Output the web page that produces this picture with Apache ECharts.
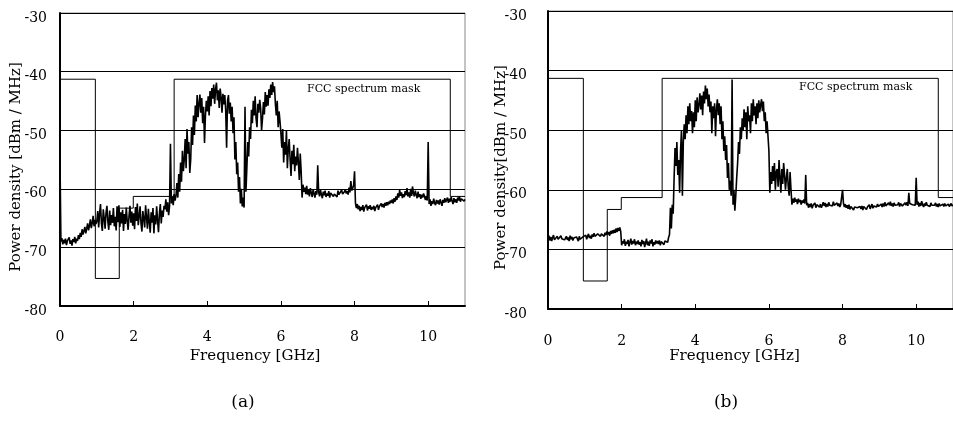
<!DOCTYPE html>
<html>
<head>
<meta charset="utf-8">
<script src="https://cdn.jsdelivr.net/npm/echarts@6/dist/echarts.min.js"></script>
<style>html,body{margin:0;padding:0;background:#fff}#c{width:953px;height:421px}</style>
</head>
<body>
<div id="c"></div>
<script>
// Sampling of measured spectra: 0 .. 11 GHz every 0.025 GHz (20 samples per row = 0.5 GHz)
var sampleStep = 0.025;
// Panel (a) measured power density [dBm/MHz]
var traceA = [
-55,-69.0,-68.4,-69.5,-68.7,-69.3,-68.5,-69.6,-68.9,-69.2,-68.3,-69.4,-68.8,-69.7,-68.6,-69.1,-68.2,-69.3,-68.5,-68.9,
-67.9,-68.6,-67.5,-68.2,-66.9,-67.8,-67.2,-66.5,-67.6,-66.8,-65.9,-67.1,-66.3,-65.2,-66.7,-65.8,-64.6,-66.4,-65.3,-66.0,
-65.5,-63.8,-66.6,-64.2,-62.6,-65.9,-67.2,-63.5,-65.0,-66.8,-64.1,-62.9,-65.6,-67.0,-63.7,-66.2,-64.5,-65.8,-63.3,-66.4,
-64.8,-67.1,-63.0,-65.7,-62.8,-66.5,-64.0,-65.9,-63.6,-67.2,-64.3,-66.0,-63.2,-65.4,-67.0,-64.6,-62.9,-65.8,-63.9,-66.3,
-64.2,-66.9,-63.1,-65.5,-62.5,-66.2,-64.7,-63.0,-65.9,-67.3,-63.8,-65.1,-66.6,-62.8,-64.9,-66.8,-63.4,-65.6,-67.5,-64.0,
-65.8,-63.3,-67.6,-64.5,-66.1,-63.0,-65.4,-67.4,-64.2,-62.6,-65.9,-63.7,-64.8,-62.9,-63.5,-61.8,-63.9,-62.3,-64.5,-63.0,
-52.3,-62.5,-61.4,-62.8,-60.9,-62.0,-61.2,-59.0,-61.5,-57.5,-60.5,-55.5,-58.8,-53.5,-57.0,-55.0,-51.5,-56.5,-49.8,-54.0,
-52.0,-57.3,-55.0,-49.5,-52.5,-47.5,-50.8,-45.8,-48.5,-44.0,-47.8,-45.5,-43.9,-47.0,-44.5,-48.8,-46.0,-52.2,-47.5,-45.0,
-46.8,-44.2,-47.5,-43.3,-45.9,-42.8,-44.6,-42.2,-45.5,-43.0,-41.9,-44.9,-43.2,-46.2,-42.9,-44.3,-47.0,-43.8,-45.6,-44.0,
-46.5,-53.0,-45.0,-44.0,-47.2,-45.3,-48.5,-46.0,-50.5,-47.8,-55.0,-52.0,-57.5,-55.5,-60.5,-58.0,-62.5,-60.0,-63.0,-61.5,
-63.2,-46.0,-60.5,-56.5,-52.0,-54.5,-49.5,-51.5,-46.5,-48.8,-45.0,-47.5,-44.2,-48.0,-49.5,-45.5,-47.0,-44.8,-46.3,-50.0,
-48.0,-45.2,-47.3,-43.5,-46.0,-44.0,-45.8,-43.0,-44.5,-42.2,-44.0,-41.8,-43.5,-42.5,-45.5,-47.5,-45.0,-49.5,-46.8,-48.5,
-50.5,-53.0,-49.8,-55.5,-52.0,-54.2,-50.0,-56.5,-53.2,-51.5,-55.0,-57.8,-53.5,-55.8,-52.5,-57.0,-54.5,-56.0,-53.0,-55.5,
-58.5,-54.0,-57.0,-61.5,-59.3,-60.5,-59.8,-60.9,-59.5,-61.0,-60.2,-61.3,-59.9,-60.7,-61.4,-60.1,-60.8,-61.5,-60.4,-61.0,
-56.0,-60.6,-61.3,-60.2,-61.0,-61.6,-60.5,-61.1,-60.3,-61.4,-60.8,-61.2,-60.4,-61.5,-60.7,-61.0,-60.5,-61.3,-60.9,-61.2,
-60.6,-61.4,-60.3,-61.0,-60.8,-61.3,-60.2,-60.9,-61.2,-60.5,-60.1,-60.8,-60.4,-61.0,-59.8,-60.6,-58.7,-60.3,-59.9,-59.4,
-57.0,-62.5,-63.3,-62.6,-63.5,-62.9,-63.8,-63.1,-63.6,-62.8,-63.9,-63.2,-63.5,-62.7,-63.7,-63.0,-63.4,-62.8,-63.6,-63.1,
-63.5,-62.9,-63.8,-63.2,-63.4,-62.7,-63.6,-63.0,-63.3,-62.5,-63.1,-62.6,-63.2,-62.4,-62.9,-62.3,-62.8,-62.2,-62.6,-62.0,
-62.4,-61.8,-62.5,-61.6,-62.2,-61.3,-61.9,-60.8,-61.5,-60.2,-61.2,-60.6,-61.6,-60.9,-61.4,-60.4,-61.1,-59.9,-61.3,-60.6,
-61.5,-60.0,-61.2,-59.6,-60.8,-61.3,-60.3,-61.0,-61.6,-60.5,-61.4,-60.9,-61.7,-61.0,-61.5,-60.8,-61.3,-61.9,-61.2,-62.0,
-52.0,-62.6,-61.8,-62.9,-62.1,-62.6,-61.7,-62.4,-62.8,-61.9,-62.5,-62.0,-62.7,-61.8,-62.3,-62.9,-61.9,-62.4,-61.6,-62.3,
-62.0,-61.5,-62.4,-61.7,-62.2,-61.4,-62.1,-62.6,-61.6,-62.3,-61.8,-62.4,-61.5,-62.0,-61.3,-62.2,-61.7,-61.9,-61.4,-62.1,
-61.8
];
// Panel (b) measured power density [dBm/MHz]
var traceB = [
-68.3,-67.7,-68.5,-67.9,-68.6,-68.0,-67.6,-68.4,-68.1,-68.7,-67.8,-68.3,-68.0,-68.6,-67.7,-68.2,-68.5,-67.9,-68.4,-68.1,
-67.8,-68.4,-68.0,-68.6,-67.7,-68.3,-67.9,-68.5,-68.1,-67.8,-68.4,-67.9,-68.2,-68.6,-67.8,-68.3,-68.0,-68.5,-67.9,-68.2,
-68.0,-67.6,-68.3,-67.8,-67.4,-68.1,-67.7,-68.2,-67.5,-67.9,-67.3,-67.8,-67.5,-68.0,-67.4,-67.7,-67.2,-67.8,-67.4,-67.6,
-67.3,-67.8,-67.2,-67.6,-67.0,-67.5,-67.1,-67.7,-66.9,-67.4,-66.8,-67.3,-66.7,-67.2,-66.5,-67.1,-66.4,-66.9,-66.3,-67.0,
-69.3,-68.6,-69.0,-68.3,-69.4,-68.7,-69.1,-68.4,-69.5,-68.8,-68.2,-69.2,-68.6,-69.0,-68.3,-69.3,-68.7,-69.1,-68.5,-69.2,
-68.8,-69.5,-68.4,-69.1,-68.6,-69.6,-68.9,-68.2,-69.3,-68.7,-69.4,-68.5,-69.0,-68.3,-69.5,-68.8,-69.2,-68.5,-69.0,-68.6,
-69.1,-68.5,-69.3,-68.7,-69.0,-68.4,-69.2,-68.6,-68.9,-68.3,-68.8,-68.0,-67.5,-63.0,-66.5,-62.5,-64.0,-58.0,-53.0,-56.0,
-52.0,-57.5,-55.0,-60.5,-53.5,-50.0,-61.0,-52.0,-49.0,-51.5,-47.5,-50.5,-46.0,-49.0,-45.5,-48.5,-46.8,-50.5,-47.0,-49.5,
-45.0,-48.5,-44.5,-47.0,-45.8,-43.8,-46.5,-44.2,-47.5,-43.5,-45.5,-42.5,-44.8,-43.0,-46.0,-44.0,-47.0,-45.2,-50.5,-46.0,
-48.0,-45.5,-51.0,-46.5,-44.8,-47.5,-45.5,-49.0,-46.0,-51.5,-48.5,-53.5,-51.0,-55.0,-52.5,-58.0,-55.5,-60.0,-58.5,-61.0,
-41.5,-62.5,-60.0,-63.5,-61.0,-58.0,-55.5,-52.0,-54.0,-49.5,-51.5,-48.0,-50.0,-46.5,-49.5,-47.0,-51.5,-46.0,-48.5,-47.5,
-50.5,-45.5,-48.5,-44.8,-47.5,-46.0,-49.0,-45.5,-48.0,-45.0,-47.0,-45.8,-44.8,-46.8,-45.2,-48.5,-47.0,-50.5,-48.5,-51.0,
-53.5,-60.5,-57.0,-59.0,-56.0,-58.5,-55.5,-60.0,-57.0,-56.5,-59.5,-55.0,-58.0,-60.5,-56.5,-59.0,-55.5,-57.5,-60.0,-58.0,
-56.5,-59.5,-61.0,-57.0,-60.0,-62.5,-61.5,-62.2,-61.3,-62.0,-61.6,-62.4,-61.5,-62.1,-61.7,-62.5,-61.8,-62.2,-61.6,-62.3,
-57.5,-62.6,-62.2,-63.0,-62.4,-62.9,-62.3,-63.1,-62.6,-62.9,-62.2,-63.0,-62.5,-62.8,-62.3,-62.9,-62.4,-63.0,-62.6,-62.1,
-62.7,-62.2,-62.9,-62.4,-62.8,-62.1,-62.6,-62.9,-62.3,-62.7,-62.0,-62.6,-62.4,-62.8,-62.2,-62.7,-62.3,-62.9,-62.5,-62.8,
-60.0,-62.3,-62.9,-62.4,-63.0,-62.6,-63.2,-62.5,-63.3,-62.8,-63.1,-62.5,-63.4,-62.9,-63.2,-62.6,-63.0,-62.7,-63.3,-62.8,
-63.2,-62.7,-63.4,-62.8,-63.1,-62.6,-63.3,-62.9,-63.0,-62.5,-63.2,-62.8,-62.4,-63.1,-62.7,-63.0,-62.6,-62.9,-62.4,-62.8,
-62.6,-63.1,-62.4,-62.9,-62.3,-62.8,-62.1,-62.7,-62.4,-62.9,-62.2,-62.6,-62.0,-62.7,-62.3,-62.8,-62.2,-62.6,-62.4,-62.9,
-62.5,-62.1,-62.8,-62.3,-62.0,-62.7,-62.4,-62.8,-62.2,-62.6,-62.1,-62.7,-60.5,-62.3,-62.6,-62.0,-62.5,-62.8,-62.2,-62.6,
-58.0,-62.5,-62.0,-62.8,-62.2,-62.7,-61.9,-62.5,-62.9,-62.3,-62.7,-62.1,-62.6,-62.9,-62.3,-62.8,-62.2,-62.6,-62.4,-62.9,
-62.6,-62.2,-62.8,-62.4,-62.9,-62.3,-62.7,-62.5,-62.9,-62.4,-62.8,-62.3,-62.7,-62.5,-62.9,-62.4,-62.8,-62.6,-62.3,-62.7,
-62.5
];
// FCC outdoor spectrum mask
var maskEdges = [0, 0.96, 1.61, 1.99, 3.1, 10.6, 11];
var maskLevels = [-41.3, -75.3, -63.3, -61.3, -41.3, -61.3];
var yTicks = [-80, -70, -60, -50, -40, -30];
var xTicks = [0, 2, 4, 6, 8, 10];

function pairs(vals){
  var out = [];
  for (var i = 0; i < vals.length; i++) out.push([+(i * sampleStep).toFixed(3), vals[i]]);
  return out;
}
function maskPairs(){
  var out = [];
  for (var i = 0; i < maskLevels.length; i++){
    out.push([maskEdges[i], maskLevels[i]]);
    out.push([maskEdges[i+1], maskLevels[i]]);
  }
  return out;
}
var FONT = 'DejaVu Serif';
function xAxis(idx, margin, gap, pad){
  return {
    type: 'value', gridIndex: idx, min: 0, max: 11, interval: 2,
    name: 'Frequency [GHz]', nameLocation: 'middle', nameGap: gap, nameMoveOverlap: false,
    nameTextStyle: {fontFamily: FONT, fontSize: 15, color: '#000', padding: [0, pad, 0, 0]},
    axisLine: {show: true, onZero: false, lineStyle: {color: '#000', width: 2}},
    axisTick: {show: true, inside: true, length: 5, lineStyle: {color: '#000', width: 1}},
    axisLabel: {fontFamily: FONT, fontSize: 14, color: '#000', margin: margin, showMaxLabel: false,
      formatter: function(v){ return xTicks.indexOf(v) >= 0 ? String(v) : ''; }},
    splitLine: {show: false}
  };
}
function yAxis(idx, name, margin, gap){
  return {
    type: 'value', gridIndex: idx, min: yTicks[0], max: yTicks[yTicks.length-1], interval: 10,
    name: name, nameLocation: 'middle', nameGap: gap, nameRotate: 90, nameMoveOverlap: false,
    nameTextStyle: {fontFamily: FONT, fontSize: 15, color: '#000', padding: [0, 15, 0, 0]},
    axisLine: {show: true, lineStyle: {color: '#000', width: 2}},
    axisTick: {show: false},
    axisLabel: {fontFamily: FONT, fontSize: 14, color: '#000', margin: margin, verticalAlign: 'top', lineHeight: 10},
    splitLine: {show: true, lineStyle: {color: '#000', width: 1}}
  };
}
var chart = echarts.init(document.getElementById('c'), null, {renderer: 'canvas'});
chart.setOption({
  backgroundColor: '#fff',
  animation: false,
  grid: [
    {left: 60, top: 13, width: 405, height: 293, show: true, borderColor: '#888', borderWidth: 1},
    {left: 548, top: 11, width: 412, height: 298, show: true, borderColor: '#888', borderWidth: 1}
  ],
  xAxis: [xAxis(0, 24, 43, 15), xAxis(1, 25, 40, 32)],
  yAxis: [yAxis(0, 'Power density [dBm / MHz]', 13, 36), yAxis(1, 'Power density[dBm / MHz]', 21, 39)],
  series: [
    {type: 'line', xAxisIndex: 0, yAxisIndex: 0, data: maskPairs(), showSymbol: false, lineStyle: {color: '#000', width: 1}, z: 3},
    {type: 'line', xAxisIndex: 0, yAxisIndex: 0, data: pairs(traceA), showSymbol: false, lineStyle: {color: '#000', width: 1.6}, z: 4},
    {type: 'line', xAxisIndex: 1, yAxisIndex: 1, data: maskPairs(), showSymbol: false, lineStyle: {color: '#000', width: 1}, z: 3},
    {type: 'line', xAxisIndex: 1, yAxisIndex: 1, data: pairs(traceB), showSymbol: false, lineStyle: {color: '#000', width: 1.6}, z: 4}
  ],
  graphic: [
    {type: 'text', left: 307, top: 84, style: {text: 'FCC spectrum mask', font: '11px "DejaVu Serif"', fill: '#000'}},
    {type: 'text', left: 799, top: 82, style: {text: 'FCC spectrum mask', font: '11px "DejaVu Serif"', fill: '#000'}},
    {type: 'text', x: 243, y: 403, style: {text: '(a)', font: '17px "DejaVu Serif"', fill: '#000', align: 'center', verticalAlign: 'middle'}},
    {type: 'text', x: 726, y: 403, style: {text: '(b)', font: '17px "DejaVu Serif"', fill: '#000', align: 'center', verticalAlign: 'middle'}}
  ]
});
</script>
</body>
</html>
